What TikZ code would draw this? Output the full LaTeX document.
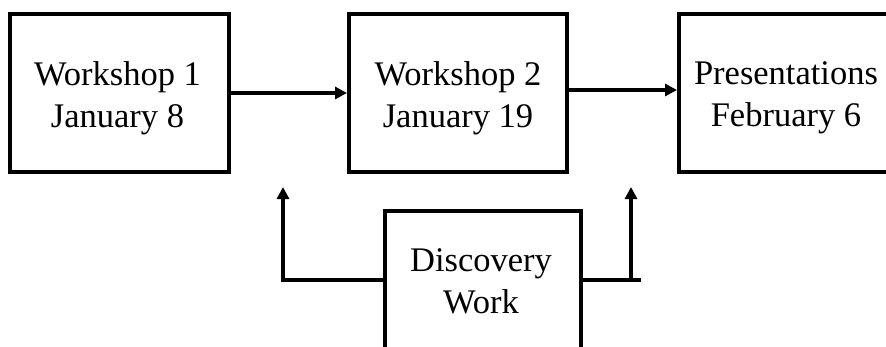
\documentclass[tikz,border=0pt]{standalone}
\usepackage{fontspec}
\setmainfont{Liberation Serif}
\usetikzlibrary{arrows.meta}
\begin{document}
\begin{tikzpicture}[x=1pt,y=1pt,
  stage/.style={draw=black,line width=4pt,fill=white,inner sep=0pt},
  caption/.style={inner sep=0pt,align=center,font=\fontsize{34.5}{42}\selectfont},
  link/.style={line width=3.5pt},
  arr/.style={link,-{Triangle[length=12pt,width=12pt]}}]
\useasboundingbox (0,0) rectangle (886,-346);
\clip (0,0) rectangle (886,-346);
\node[stage,minimum width=219pt,minimum height=158pt] (b1) at (119.5,-93) {};
\node[stage,minimum width=218pt,minimum height=158pt] (b2) at (458,-93) {};
\node[stage,minimum width=214pt,minimum height=158pt] (b3) at (786,-93) {};
\node[stage,minimum width=196pt,minimum height=138pt] (b4) at (483,-280) {};
\node[caption] (t1) at ([xshift=-2pt,yshift=-5pt]b1.center) {Workshop 1\\January 8};
\node[caption] (t2) at ([yshift=-5pt]b2.center) {Workshop 2\\January 19};
\node[caption] (t3) at ([yshift=-5pt]b3.center) {Presentations\\February 6};
\node[caption] (t4) at ([xshift=-2pt,yshift=-1pt]b4.center) {Discovery\\Work};
\coordinate (lt) at (283,-187);
\coordinate (rt) at (631,-187);
\coordinate (re) at (641,-280);
\draw[arr] (b1.east) -- (b2.west);
\draw[arr] ([yshift=3pt]b2.east) -- ([yshift=3pt]b3.west);
\draw[arr] (b4.west) -| (lt);
\draw[link] (b4.east) -- (re);
\draw[arr] (rt |- re) -- (rt);
\end{tikzpicture}
\end{document}
